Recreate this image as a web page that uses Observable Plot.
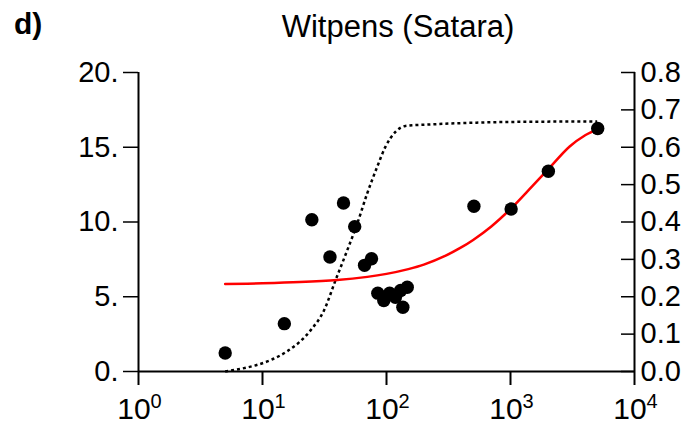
<!DOCTYPE html>
<html><head><meta charset="utf-8">
<script src="https://cdn.jsdelivr.net/npm/d3@7"></script>
<script src="https://cdn.jsdelivr.net/npm/@observablehq/plot@0.6"></script>
<style>
body{margin:0;background:#fff;}
#wrap{position:relative;width:689px;height:427px;font-family:"Liberation Sans",Arial,sans-serif;overflow:hidden;}
.lab{position:absolute;font-size:30px;line-height:30px;white-space:nowrap;color:#000}
</style></head><body>
<div id="wrap">
<div id="chart"></div>
<div class="lab" style="left:14px;top:9px;font-weight:bold">d)</div>
<div class="lab" style="left:398px;top:12px;font-size:31px;transform:translateX(-50%)">Witpens (Satara)</div>
</div>
<script>
// observed points (left axis)
const pointX = [5, 15, 25, 35, 45, 55.4, 66.5, 75.7, 85.1, 95.1, 106, 118, 130, 135.5, 147, 507, 1012, 2020, 5050];
const pointY = [1.24, 3.2, 10.15, 7.66, 11.27, 9.69, 7.10, 7.54, 5.24, 4.75, 5.24, 4.97, 5.42, 4.30, 5.64, 11.05, 10.87, 13.39, 16.25];
// fitted red curve (left axis)
const redX = [5, 10, 20, 40, 70, 100, 150, 200, 300, 400, 500, 700, 1000, 1500, 2000, 3000, 4000, 5000];
const redY = [5.85, 5.9, 5.98, 6.12, 6.33, 6.53, 6.85, 7.15, 7.75, 8.3, 8.8, 9.7, 10.87, 12.4, 13.5, 15.05, 15.8, 16.2];
// dotted curve (right axis, 0-0.8)
const dotX = [5, 15.8, 24.4, 31.3, 38.8, 48.2, 58, 69.8, 84, 98, 118, 142, 226, 1200, 5000];
const dotP = [0, 0.054, 0.11, 0.163, 0.244, 0.324, 0.395, 0.476, 0.547, 0.601, 0.641, 0.657, 0.661, 0.668, 0.669];
// ticks
const xTicks = [1, 10, 100, 1000, 10000];
const leftTicks = [0, 5, 10, 15, 20];
const rightTicks = [0, 0.1, 0.2, 0.3, 0.4, 0.5, 0.6, 0.7, 0.8];
const RIGHT_MAX = 0.8, LEFT_MAX = 20;
const k = LEFT_MAX / RIGHT_MAX;

const pts = pointX.map((x, i) => ({x, y: pointY[i]}));
const red = redX.map((x, i) => ({x, y: redY[i]}));
const dotted = dotX.map((x, i) => ({x, p: dotP[i]}));

const chart = Plot.plot({
  width: 689, height: 427,
  marginLeft: 138, marginRight: 55, marginTop: 72, marginBottom: 56,
  style: {fontFamily: "Liberation Sans, Arial, sans-serif", color: "black", background: "white", overflow: "visible"},
  x: {type: "log", domain: [1, 10000]},
  y: {domain: [0, LEFT_MAX]},
  marks: [
    Plot.line(dotted, {x: "x", y: d => d.p * k, stroke: "black", strokeWidth: 2.5, strokeDasharray: "3 3", strokeLinecap: "butt", strokeLinejoin: "miter", curve: "monotone-x"}),
    Plot.line(red, {x: "x", y: "y", stroke: "#ff0000", strokeWidth: 2.5, curve: "catmull-rom"}),
    Plot.dot(pts, {x: "x", y: "y", r: 6.7, fill: "black"}),
    Plot.ruleX([1, 10000], {stroke: "black", strokeWidth: 2}),
    Plot.ruleY([0], {stroke: "black", strokeWidth: 2}),
    Plot.axisY(leftTicks, {anchor: "left", tickSize: 15, tickPadding: 5, tickFormat: d => d + ".", fontSize: 29, label: null, strokeWidth: 1.5}),
    Plot.axisY(rightTicks.map(v => v * k), {anchor: "right", tickSize: 14, dx: -14, tickFormat: () => "", label: null, strokeWidth: 1.5}),
    Plot.axisY(rightTicks.map(v => v * k), {anchor: "right", tickSize: 0, tickPadding: 6, tickFormat: d => (d / k).toFixed(1), fontSize: 29, label: null}),
    Plot.axisX(xTicks, {tickSize: 14, tickFormat: () => "", label: null, strokeWidth: 2}),
    Plot.text(xTicks, {x: d => d, frameAnchor: "bottom", text: () => "10", dy: 47.7, dx: -4.5, lineAnchor: "bottom", textAnchor: "middle", fontSize: 30}),
    Plot.text(xTicks, {x: d => d, frameAnchor: "bottom", text: d => String(Math.round(Math.log10(d))), dy: 36.3, dx: 12, lineAnchor: "bottom", textAnchor: "start", fontSize: 20})
  ]
});
document.getElementById("chart").appendChild(chart);
</script>
</body></html>
